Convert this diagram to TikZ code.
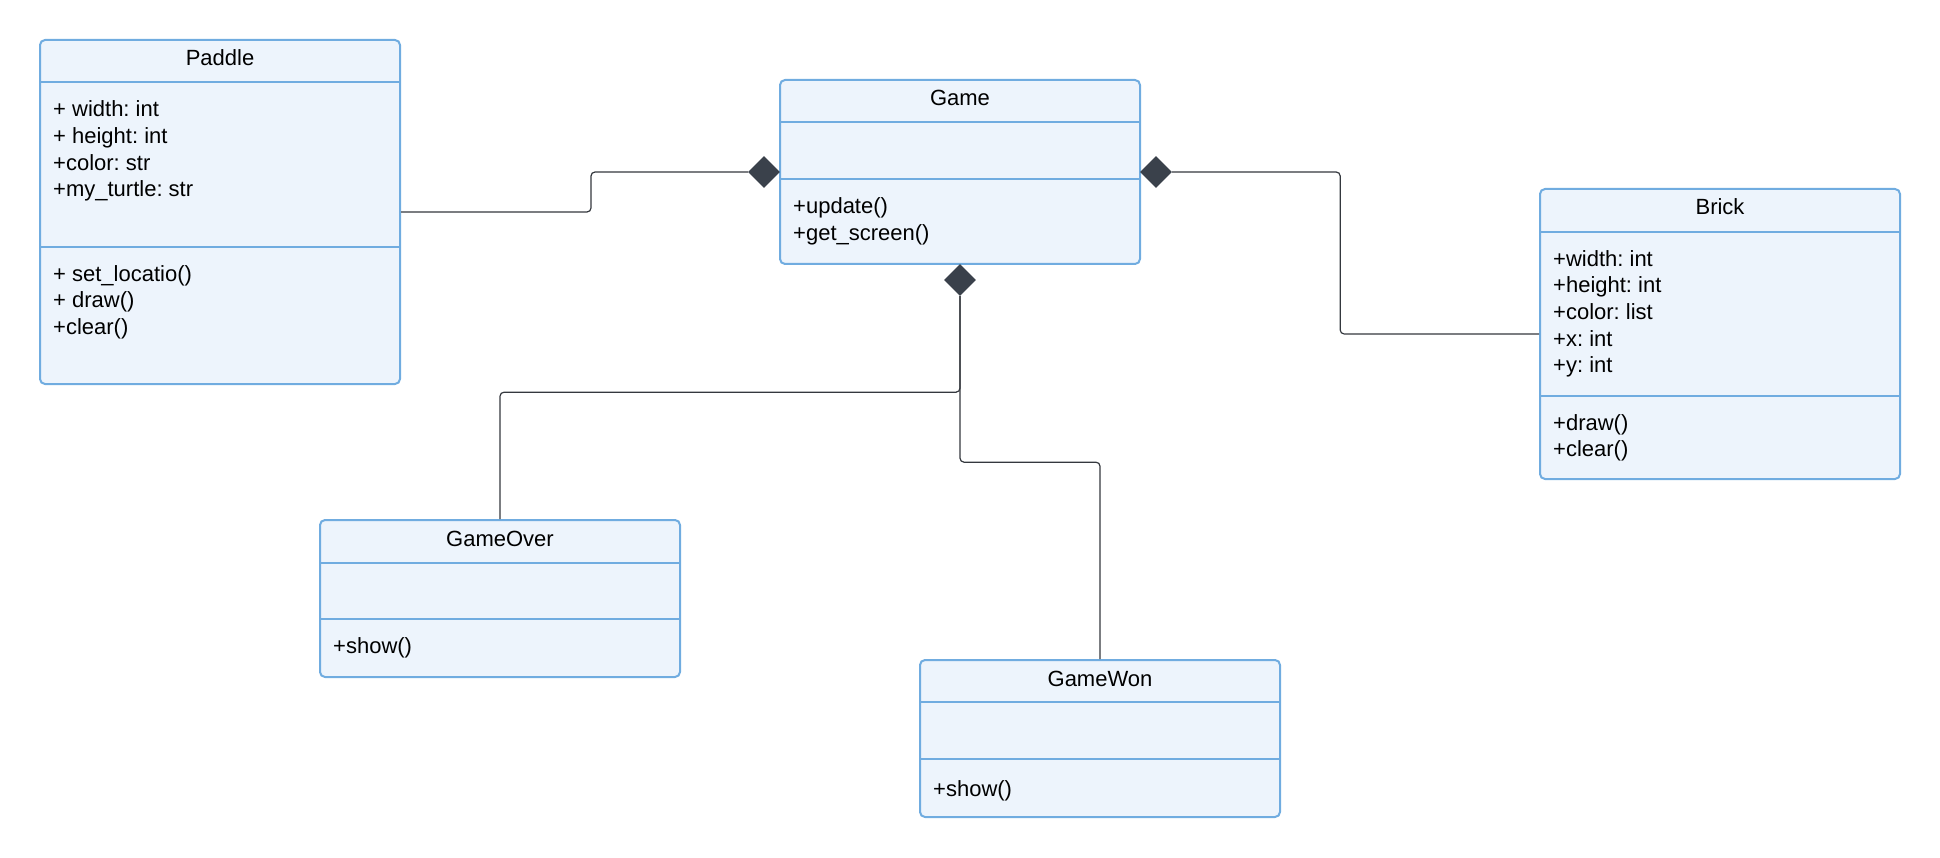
\documentclass[tikz,border=0pt]{standalone}
\usepackage{fontspec}
\setmainfont{Liberation Sans}
\usetikzlibrary{shapes.geometric}
\frenchspacing

\definecolor{classfill}{RGB}{237,244,252}
\definecolor{classline}{RGB}{112,172,224}
\definecolor{linkcol}{RGB}{52,56,62}
\definecolor{diamondcol}{RGB}{58,65,75}

\tikzset{
  classbox/.style={draw=classline, fill=classfill, line width=2pt,
    rounded corners=5pt, inner sep=0pt},
  sepline/.style={draw=classline, line width=2pt},
  title/.style={anchor=base, inner sep=0pt, font=\fontsize{22}{26.7}\selectfont},
  % multi-line blocks are placed by the baseline of their last line
  members/.style={anchor=base west, inner sep=0pt, align=left,
    font=\fontsize{22}{26.7}\selectfont},
  comp/.style={diamond, fill=diamondcol, draw=none, inner sep=0pt,
    minimum width=32pt, minimum height=32pt},
  conn/.style={draw=linkcol, line width=1.2pt, rounded corners=4pt},
}

\begin{document}
\begin{tikzpicture}[x=1pt, y=-1pt]
\useasboundingbox (0,0) rectangle (1940,858);

% Paddle
\node[classbox, minimum width=360pt, minimum height=344pt] (paddle) at (220,212) {};
\draw[sepline] (40,82) -- (400,82) (40,247) -- (400,247);
\node[title] (paddleT) at (220,66) {Paddle};
\node[members] (paddleA) at (53,197) {+ width: int\\+ height: int\\+color: str\\+my\_turtle: str};
\node[members] (paddleM) at (53,334.4) {+ set\_locatio()\\+ draw()\\+clear()};

% Game
\node[classbox, minimum width=360pt, minimum height=184pt] (game) at (960,172) {};
\draw[sepline] (780,122) -- (1140,122) (780,179) -- (1140,179);
\node[title] (gameT) at (960,106) {Game};
\node[members] (gameM) at (793,240.7) {+update()\\+get\_screen()};

% Brick
\node[classbox, minimum width=360pt, minimum height=290pt] (brick) at (1720,334) {};
\draw[sepline] (1540,232) -- (1900,232) (1540,396) -- (1900,396);
\node[title] (brickT) at (1720,215) {Brick};
\node[members] (brickA) at (1553,372.8) {+width: int\\+height: int\\+color: list\\+x: int\\+y: int};
\node[members] (brickM) at (1553,456.7) {+draw()\\+clear()};

% GameOver
\node[classbox, minimum width=360pt, minimum height=157pt] (gameover) at (500,598.5) {};
\draw[sepline] (320,563) -- (680,563) (320,619) -- (680,619);
\node[title] (gameoverT) at (500,546) {GameOver};
\node[members] (gameoverM) at (333,653) {+show()};

% GameWon
\node[classbox, minimum width=360pt, minimum height=157pt] (gamewon) at (1100,738.5) {};
\draw[sepline] (920,702) -- (1280,702) (920,759) -- (1280,759);
\node[title] (gamewonT) at (1100,686) {GameWon};
\node[members] (gamewonM) at (933,796) {+show()};

% composition diamonds on Game
\node[comp] (dl) at (764,172) {};
\node[comp] (dr) at (1156,172) {};
\node[comp] (db) at (960,280) {};

% connectors
\draw[conn] (paddle.east) -- ++(190,0) |- (dl.west);
\draw[conn] (dr.east) -- ++(168,0) |- (brick.west);
\draw[conn] (db.south) -- ++(0,96) -| (gameover.north);
\draw[conn] (db.south) -- ++(0,166) -| (gamewon.north);
\end{tikzpicture}
\end{document}
